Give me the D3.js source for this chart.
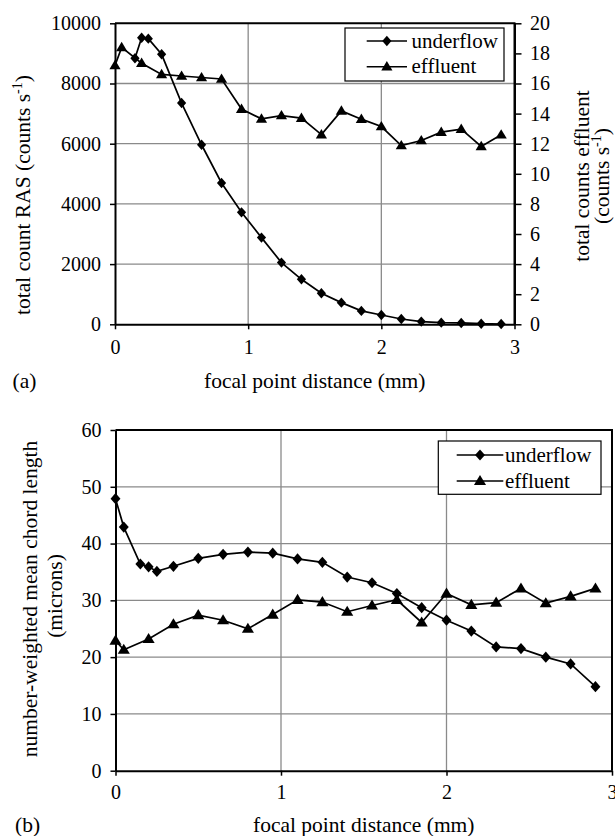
<!DOCTYPE html>
<html>
<head>
<meta charset="utf-8">
<script src="https://cdn.jsdelivr.net/npm/d3@7"></script>
<style>
    body { margin: 0; background: #fff; }
    svg text { font-family: "Liberation Serif", "Times New Roman", serif; fill: #000; }
</style>
</head>
<body>
<div id="chart"></div>
<script>
// Panel (a): total counts vs focal point distance
const distUnderA = [0.15, 0.2, 0.25, 0.35, 0.5, 0.65, 0.8, 0.95, 1.1, 1.25, 1.4, 1.55, 1.7, 1.85, 2.0, 2.15, 2.3, 2.45, 2.6, 2.75, 2.9];
const underflowA = [8840, 9520, 9490, 8970, 7350, 5965, 4695, 3720, 2880, 2050, 1495, 1030, 720, 445, 310, 177, 90, 55, 45, 20, 10];
const distEffA = [0, 0.05, 0.2, 0.35, 0.5, 0.65, 0.8, 0.95, 1.1, 1.25, 1.4, 1.55, 1.7, 1.85, 2.0, 2.15, 2.3, 2.45, 2.6, 2.75, 2.9];
const effluentA = [17.2, 18.4, 17.35, 16.6, 16.5, 16.4, 16.3, 14.3, 13.65, 13.87, 13.7, 12.6, 14.18, 13.63, 13.14, 11.88, 12.21, 12.77, 12.97, 11.82, 12.59];

// Panel (b): number-weighted mean chord length
const distUnderB = [0, 0.05, 0.15, 0.2, 0.25, 0.35, 0.5, 0.65, 0.8, 0.95, 1.1, 1.25, 1.4, 1.55, 1.7, 1.85, 2.0, 2.15, 2.3, 2.45, 2.6, 2.75, 2.9];
const underflowB = [47.9, 42.9, 36.4, 35.9, 35.1, 36.0, 37.4, 38.1, 38.5, 38.3, 37.3, 36.7, 34.1, 33.1, 31.2, 28.7, 26.5, 24.6, 21.8, 21.5, 20.0, 18.8, 14.8];
const distEffB = [0, 0.05, 0.2, 0.35, 0.5, 0.65, 0.8, 0.95, 1.1, 1.25, 1.4, 1.55, 1.7, 1.85, 2.0, 2.15, 2.3, 2.45, 2.6, 2.75, 2.9];
const effluentB = [22.9, 21.3, 23.2, 25.8, 27.4, 26.5, 25.0, 27.5, 30.1, 29.7, 28.0, 29.1, 30.1, 26.1, 31.2, 29.2, 29.6, 32.1, 29.5, 30.7, 32.1];

// Tick labels
const xTicks = [0, 1, 2, 3];
const countTicks = [0, 2000, 4000, 6000, 8000, 10000];
const effTicks = [0, 2, 4, 6, 8, 10, 12, 14, 16, 18, 20];
const chordTicks = [0, 10, 20, 30, 40, 50, 60];
const seriesNames = ["underflow", "effluent"];

const width = 615, height = 836;
const gridColor = "#8a8a8a";
const serif = '"Liberation Serif", "Times New Roman", serif';
const fmt = d3.format("d");

const svg = d3.select("#chart")
    .append("svg")
    .attr("width", width)
    .attr("height", height);

// marker shapes
const diamond = s => `M0,${-5.2 * s}L${4.6 * s},0L0,${5.2 * s}L${-4.6 * s},0Z`;
const triangle = s => `M0,${-5.6 * s}L${5.6 * s},${3.8 * s}L${-5.6 * s},${3.8 * s}Z`;

// Scales
const xA = d3.scaleLinear().domain([0, 3]).range([115, 514.5]);
const yA = d3.scaleLinear().domain([0, 10000]).range([324.3, 23.3]);
const yA2 = d3.scaleLinear().domain([0, 20]).range([324.3, 23.3]);

const xB = d3.scaleLinear().domain([0, 3]).range([115.5, 612]);
const yB = d3.scaleLinear().domain([0, 60]).range([770.7, 430]);

function drawGrid(g, x, y, yTicks) {
    g.selectAll(".vgrid")
        .data(xTicks.slice(1, -1))
        .enter()
        .append("line")
        .attr("x1", d => x(d)).attr("x2", d => x(d))
        .attr("y1", y.range()[0]).attr("y2", y.range()[1])
        .attr("stroke", gridColor).attr("stroke-width", 1.3);

    g.selectAll(".hgrid")
        .data(yTicks.slice(1, -1))
        .enter()
        .append("line")
        .attr("x1", x.range()[0]).attr("x2", x.range()[1])
        .attr("y1", d => y(d)).attr("y2", d => y(d))
        .attr("stroke", gridColor).attr("stroke-width", 1.3);

    // top and right frame
    g.append("path")
        .attr("d", `M${x.range()[0]},${y.range()[1]}H${x.range()[1]}V${y.range()[0]}`)
        .attr("fill", "none")
        .attr("stroke", "#000")
        .attr("stroke-width", 2);
}

function styleAxis(sel) {
    sel.attr("font-family", serif).attr("font-size", 20);
    sel.select(".domain").attr("stroke-width", 2);
    sel.selectAll(".tick line").attr("stroke-width", 1.5);
    sel.selectAll("text").style("font-family", serif).style("font-size", "20px");
}

function drawSeries(g, x, y, xs, ys, shape, s) {
    const pts = xs.map((d, i) => [d, ys[i]]);
    g.append("path")
        .datum(pts)
        .attr("fill", "none")
        .attr("stroke", "#000")
        .attr("stroke-width", 1.7)
        .attr("d", d3.line().x(d => x(d[0])).y(d => y(d[1])));
    g.selectAll(null)
        .data(pts)
        .enter()
        .append("path")
        .attr("transform", d => `translate(${x(d[0])},${y(d[1])})`)
        .attr("d", shape(s))
        .attr("fill", "#000");
}

function drawLegend(g, box, lineX0, lineX1, textX, rowY, s) {
    g.append("rect")
        .attr("x", box[0]).attr("y", box[1])
        .attr("width", box[2]).attr("height", box[3])
        .attr("fill", "#fff")
        .attr("stroke", "#000")
        .attr("stroke-width", 1.2);
    const shapes = [diamond, triangle];
    seriesNames.forEach((name, i) => {
        g.append("line")
            .attr("x1", lineX0).attr("x2", lineX1)
            .attr("y1", rowY[i]).attr("y2", rowY[i])
            .attr("stroke", "#000").attr("stroke-width", 1.5);
        g.append("path")
            .attr("transform", `translate(${(lineX0 + lineX1) / 2},${rowY[i]})`)
            .attr("d", shapes[i](s))
            .attr("fill", "#000");
        g.append("text")
            .attr("x", textX)
            .attr("y", rowY[i] + 6.5)
            .style("font-family", serif)
            .style("font-size", "21px")
            .text(name);
    });
}

// rotated title with an optional superscript "-1"
function rotatedTitle(x, y, before, sup, after) {
    const t = svg.append("text")
        .attr("transform", `translate(${x},${y}) rotate(-90)`)
        .attr("text-anchor", "middle")
        .style("font-family", serif)
        .style("font-size", "21.5px");
    t.append("tspan").text(before);
    if (sup) {
        t.append("tspan").attr("dy", -8).style("font-size", "14px").text(sup);
        t.append("tspan").attr("dy", 8).text(after);
    }
}

function plainText(x, y, anchor, str) {
    svg.append("text")
        .attr("x", x)
        .attr("y", y)
        .attr("text-anchor", anchor)
        .style("font-family", serif)
        .style("font-size", "21.5px")
        .text(str);
}

// ---------- Panel (a) ----------
const gA = svg.append("g");
drawGrid(gA, xA, yA, countTicks);

gA.append("g")
    .attr("transform", `translate(${xA.range()[0]},0)`)
    .call(d3.axisLeft(yA).tickValues(countTicks).tickFormat(fmt).tickSize(5).tickSizeOuter(0).tickPadding(9))
    .call(styleAxis);

gA.append("g")
    .attr("transform", `translate(${xA.range()[1]},0)`)
    .call(d3.axisRight(yA2).tickValues(effTicks).tickFormat(fmt).tickSize(7).tickSizeOuter(0).tickPadding(8.5))
    .call(styleAxis);

gA.append("g")
    .attr("transform", `translate(0,${yA.range()[0]})`)
    .call(d3.axisBottom(xA).tickValues(xTicks).tickFormat(fmt).tickSize(5).tickSizeOuter(0).tickPadding(10.5))
    .call(styleAxis);

drawSeries(gA, xA, yA, distUnderA, underflowA, diamond, 1);
drawSeries(gA, xA, yA2, distEffA, effluentA, triangle, 1);
drawLegend(gA, [345, 28, 159, 53], 366.7, 407, 411.5, [41, 66.7], 1);

rotatedTitle(30, 195, "total count RAS (counts s", "-1", ")");
rotatedTitle(589, 176, "total counts effluent");
rotatedTitle(609, 176, "(counts s", "-1", ")");

plainText((xA.range()[0] + xA.range()[1]) / 2, 388, "middle", "focal point distance (mm)");
plainText(12.5, 388, "start", "(a)");

// ---------- Panel (b) ----------
const gB = svg.append("g");
drawGrid(gB, xB, yB, chordTicks);

gB.append("g")
    .attr("transform", `translate(${xB.range()[0]},0)`)
    .call(d3.axisLeft(yB).tickValues(chordTicks).tickFormat(fmt).tickSize(5).tickSizeOuter(0).tickPadding(9))
    .call(styleAxis);

gB.append("g")
    .attr("transform", `translate(0,${yB.range()[0]})`)
    .call(d3.axisBottom(xB).tickValues(xTicks).tickFormat(fmt).tickSize(5).tickSizeOuter(0).tickPadding(9.5))
    .call(styleAxis);

drawSeries(gB, xB, yB, distUnderB, underflowB, diamond, 1.08);
drawSeries(gB, xB, yB, distEffB, effluentB, triangle, 1.08);
drawLegend(gB, [438.3, 441, 162.7, 53.3], 456.7, 503.3, 505, [455, 481], 1.08);

rotatedTitle(36.5, 599, "number-weighted mean chord length");
rotatedTitle(61.5, 596, "(microns)");

plainText((xB.range()[0] + xB.range()[1]) / 2, 832, "middle", "focal point distance (mm)");
plainText(15, 832, "start", "(b)");
</script>
</body>
</html>
